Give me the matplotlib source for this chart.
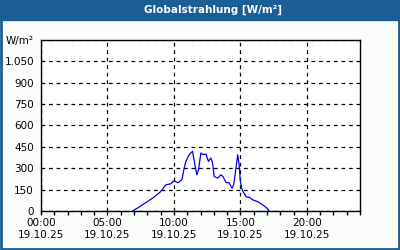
import matplotlib.pyplot as plt
from matplotlib.patches import Rectangle

# Globalstrahlung 19.10.25 (hours, W/m²)
hours = [6.9, 7.5, 8.0, 8.5, 9.0, 9.4, 9.76, 10.0, 10.15, 10.3, 10.6, 10.77, 10.9,
         11.15, 11.4, 11.55, 11.72, 11.85, 12.03, 12.2, 12.4, 12.6, 12.78, 12.9,
         13.03, 13.28, 13.54, 13.7, 13.92, 14.15, 14.37, 14.5, 14.67, 14.8, 14.9,
         15.0, 15.13, 15.43, 15.7, 15.93, 16.3, 16.7, 17.07, 17.15]
values = [0, 35, 66, 97, 136, 184, 191, 212, 205, 198, 219, 301, 348,
          395, 419, 340, 254, 290, 407, 395, 400, 348, 372, 340,
          242, 231, 254, 240, 200, 198, 160, 185, 301, 395, 330,
          207, 148, 101, 95, 78, 66, 42, 14, 0]

yticks = [0, 150, 300, 450, 600, 750, 900, 1050, 1200]
ylabels = ['0', '150', '300', '450', '600', '750', '900', '1.050', 'W/m²']
xticks = [0, 5, 10, 15, 20]
xlabels = ['00:00\n19.10.25', '05:00\n19.10.25', '10:00\n19.10.25',
           '15:00\n19.10.25', '20:00\n19.10.25']

blue = '#1b5e96'
fig = plt.figure(figsize=(4, 2.5), dpi=100)
fig.patch.set_facecolor('#fbfdfb')
fig.patches.append(Rectangle((0, 0.92), 1, 0.08, transform=fig.transFigure,
                             color=blue, zorder=0))
fig.patches.append(Rectangle((0.0025, 0.004), 0.995, 0.99, transform=fig.transFigure,
                             fill=False, edgecolor=blue, lw=2, zorder=5))
fig.text(0.533, 0.96, 'Globalstrahlung [W/m²]', color='white', fontsize=7.5,
         fontweight='bold', ha='center', va='center')

ax = fig.add_axes([0.1025, 0.156, 0.7975, 0.684])
ax.set_facecolor('white')
ax.plot(hours, values, color='#0000ee', lw=0.9)

ax.set_xlim(0, 24)
ax.set_ylim(0, 1200)
ax.set_yticks(yticks)
ax.set_yticklabels(ylabels)
ax.set_xticks(xticks)
ax.set_xticklabels(xlabels)
ax.set_xticks(range(25), minor=True)
ax.tick_params(axis='x', labelsize=7.5, length=3, width=1, color='black', pad=2)
ax.tick_params(axis='x', which='minor', length=3, width=1)
ax.tick_params(axis='y', labelsize=7.5, length=0, pad=5)
for s in ax.spines.values():
    s.set_linewidth(1)

ax.grid(True, which='major', color='black', linestyle=(0, (3, 3)), lw=0.9)

fig.savefig('out.png', dpi=100, facecolor=fig.get_facecolor())
